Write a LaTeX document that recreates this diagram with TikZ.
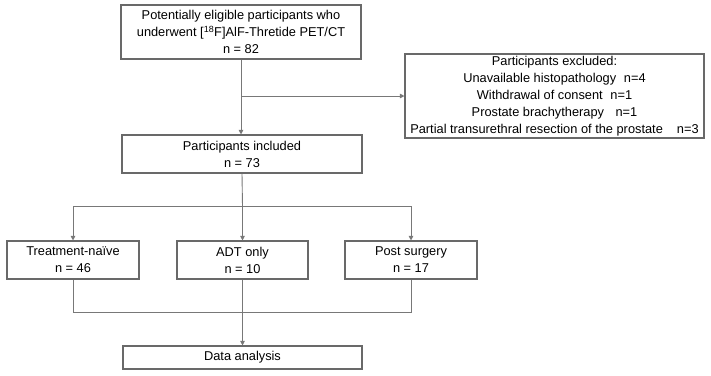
\documentclass[tikz,border=0pt]{standalone}
\usepackage{fontspec}
\setmainfont{Liberation Sans}
\usetikzlibrary{arrows.meta,positioning,calc}
\definecolor{lineG}{RGB}{120,120,120}
\definecolor{boxG}{RGB}{105,105,105}
\newcommand{\gap}[1]{\hspace*{#1}}

\begin{document}
\begin{tikzpicture}[x=1pt,y=-1pt,
		flowbox/.style={draw=boxG,line width=1.1pt,fill=white,align=center,inner sep=0pt,
			font=\fontsize{12.8}{17}\selectfont},
		link/.style={draw=lineG,line width=0.9pt},
		linkarrow/.style={link,-{Triangle[length=4.5pt,width=4.5pt]}}]
		\useasboundingbox[fill=white] (0,0) rectangle (711,375);
		% boxes
		\node[flowbox,minimum width=240pt,minimum height=54pt] (eligible) at (241,32)
			{Potentially eligible participants who\\underwent [\textsuperscript{18}F]AlF-Thretide PET/CT\\n = 82};
		\node[flowbox,minimum width=299pt,minimum height=84pt] (excluded) at (554.5,96)
			{Participants excluded:\\Unavailable histopathology\gap{0.6em}n=4\\Withdrawal of consent\gap{0.6em}n=1\\
			Prostate brachytherapy\gap{0.9em}n=1\\Partial transurethral resection of the prostate\gap{1.1em}n=3};
		\node[flowbox,minimum width=240pt,minimum height=38pt] (included) at (242,154)
			{Participants included\\n = 73};
		\node[flowbox,minimum width=132pt,minimum height=38pt] (naive) at (73,260)
			{Treatment-naïve\\n = 46};
		\node[flowbox,minimum width=131pt,minimum height=38pt] (adt) at (242.5,260)
			{ADT only\\n = 10};
		\node[flowbox,minimum width=132pt,minimum height=38pt] (surgery) at (411,260)
			{Post surgery\\n = 17};
		\node[flowbox,minimum width=239pt,minimum height=23pt] (analysis) at (242.5,357.5)
			{Data analysis};
		% connectors
		\coordinate (split) at (eligible.south |- excluded.west);
		\coordinate (fork) at ($(adt.north)+(0,-34)$);
		\coordinate (merge) at ($(adt.south)+(0,33)$);
		\draw[linkarrow] (eligible.south) -- (eligible.south |- included.north);
		\draw[linkarrow] (split) -- (excluded.west);
		\draw[link] (included.south) -- (fork);
		\draw[linkarrow] (fork) -| (naive.north);
		\draw[linkarrow] (fork) -- (adt.north);
		\draw[linkarrow] (fork) -| (surgery.north);
		\draw[link] (naive.south) |- (merge) -| (surgery.south);
		\draw[linkarrow] (adt.south) -- (analysis.north);
\end{tikzpicture}
\end{document}
